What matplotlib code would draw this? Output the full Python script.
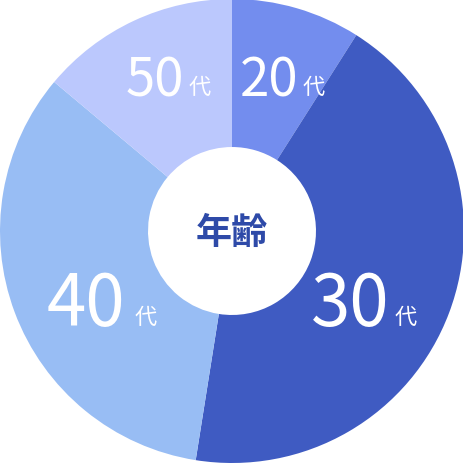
import matplotlib
matplotlib.use('Agg')
import matplotlib.pyplot as plt

plt.rcParams['font.family'] = ['Noto Sans CJK JP', 'DejaVu Sans']

# data
ages = ['20', '30', '40', '50']
shares = [9.0, 43.5, 33.6, 13.9]
colors = ['#738dee', '#3f5bc2', '#98bdf4', '#bbc8fd']
center_label = '年齢'

# label layout: (x of digit right edge, baseline y, digit size, gap to 代)
label_pos = [(0.285, 0.586, 38, 0.02),
             (0.680, -0.405, 51, 0.02),
             (-0.460, -0.405, 51, 0.04),
             (-0.206, 0.586, 38, 0.02)]

fig = plt.figure(figsize=(4.64, 4.64), dpi=100)
ax = fig.add_axes([0, 0, 1, 1])
ax.pie(shares, colors=colors, startangle=90, counterclock=False, radius=1,
       wedgeprops=dict(width=0.638, linewidth=0))

for age, (x, y, fs, gap) in zip(ages, label_pos):
    ax.text(x, y, age, color='white', fontsize=fs, ha='right', va='baseline',
            fontweight='normal')
    ax.text(x + gap, y + 0.01, '代', color='white', fontsize=16, ha='left',
            va='baseline', fontweight='normal')

ax.text(0, -0.005, center_label, color='#2e4aa8', fontsize=26, ha='center',
        va='center', fontweight='bold')

ax.set_xlim(-1, 1)
ax.set_ylim(-1, 1)
ax.set_aspect('equal')
ax.axis('off')
fig.savefig('out.png', dpi=100, facecolor='white')
